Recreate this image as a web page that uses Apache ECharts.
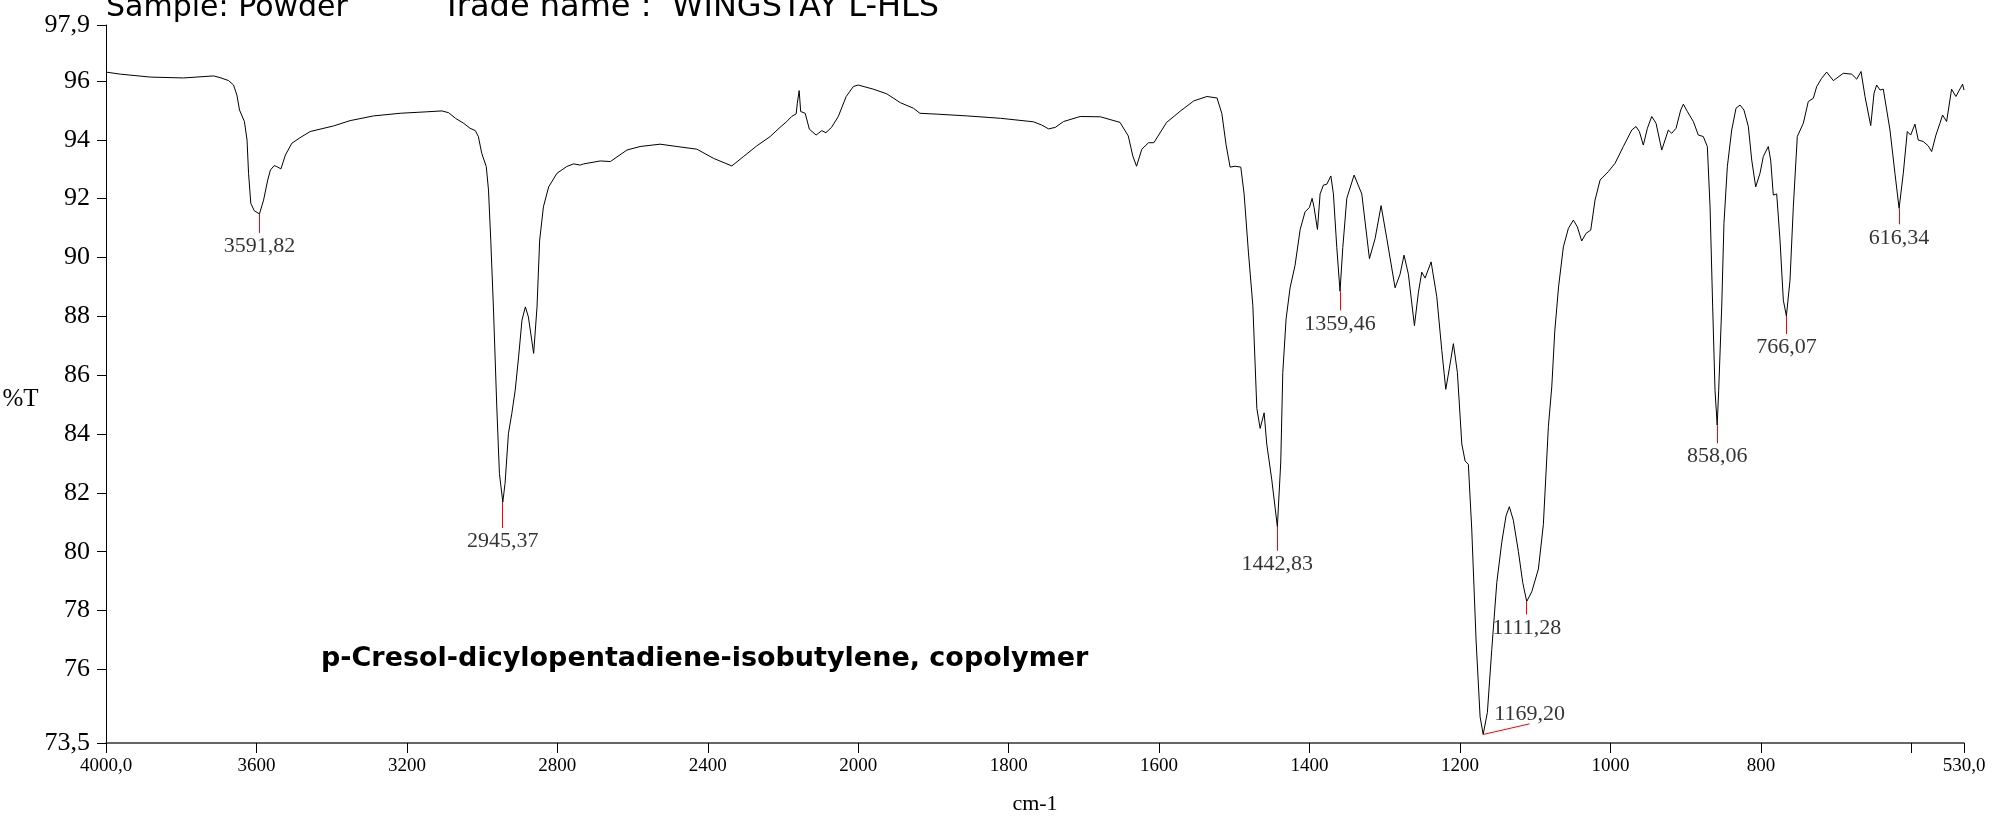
<!DOCTYPE html>
<html>
<head>
<meta charset="utf-8">
<script src="https://cdn.jsdelivr.net/npm/echarts@6.0.0/dist/echarts.min.js"></script>
<style>
html, body { margin: 0; padding: 0; background: #fff; }
#chart { width: 1996px; height: 817px; }
</style>
</head>
<body>
<div id="chart"></div>
<script>
// spectrum, wavenumber (cm-1) and %T
var wavenumbers = [
  4000, 3962, 3882, 3794, 3714, 3696, 3674, 3661, 3652, 3645, 3632, 3625, 3621, 3615, 3606, 3592,
  3581, 3570, 3563, 3553, 3546, 3535, 3523, 3506, 3484, 3457, 3395, 3351, 3289, 3218, 3147, 3107,
  3089, 3071, 3049, 3032, 3018, 3010, 3001, 2989, 2983, 2977, 2970, 2961, 2954, 2945, 2939, 2930,
  2921, 2912, 2903, 2894, 2885, 2877, 2863, 2854, 2847, 2837, 2823, 2801, 2775, 2757, 2739, 2730,
  2686, 2659, 2615, 2580, 2527, 2482, 2429, 2385, 2336, 2305, 2270, 2234, 2208, 2190, 2177, 2165,
  2162, 2157, 2153, 2141, 2130, 2112, 2097, 2086, 2071, 2053, 2032, 2013, 2000,
  1980, 1962, 1944, 1926.5, 1918, 1895, 1855, 1811, 1767, 1756, 1747, 1738, 1727, 1705, 1678,
  1652, 1641, 1635, 1630, 1623, 1614, 1607, 1590, 1572, 1554, 1536.5, 1523, 1516.6, 1511, 1505.6,
  1499, 1491.4, 1487, 1481.3, 1475.4, 1470.1, 1465.7, 1460.4, 1456.9, 1450.2, 1442.8, 1438.3,
  1435.6, 1431.2, 1425.9, 1419.3, 1412.5, 1406, 1400.2, 1396.6, 1394, 1389.5, 1386, 1381.6, 1377,
  1371.7, 1368.3, 1363.8, 1359.5, 1355.8, 1350.5, 1340.8, 1330.6, 1320.4, 1312.9, 1304.9, 1297.3,
  1286.3, 1279.7, 1274.4, 1268.6, 1260.6, 1255.3, 1250.8, 1246.4, 1238.4, 1230.9, 1224.2, 1218.9,
  1214.1, 1208.8, 1203.5, 1197.6, 1193.2, 1188.9, 1184.4, 1178.6, 1173.3, 1169.2, 1163.6, 1157.8,
  1151.1, 1144.5, 1138.8, 1134.4, 1129.1, 1122.4, 1116.6, 1111.3, 1104.6, 1095.8, 1089.2, 1082.5,
  1078, 1074, 1069, 1062.6, 1055.9, 1049.3, 1044, 1038.2, 1032.4, 1026.2, 1020.5, 1013.8, 1002.8,
  993.9, 982.9, 971.7, 966, 961.6, 956.3, 950.9, 945.1, 939.4, 931.8, 923.1, 918.6, 912.8, 906.6,
  903.1, 897.8, 889.8, 883.2, 876.6, 871.2, 867.6, 864.1, 861, 858.1, 856.1, 852.1, 849.1, 844.6,
  838.8, 833.1, 827.8, 822.5, 816.7, 812.2, 806.9, 801.2, 796.8, 790.2, 787, 783.5, 779, 774.6,
  770.2, 766.1, 761.3, 756.9, 751.6, 743.6, 737, 730.3, 725.8, 719.2, 712.5, 703.7, 690.4, 679.3,
  672.6, 666.9, 661.6, 654, 649.6, 646.1, 641.7, 637.3, 628.4, 621.8, 616.3, 610.7, 605.4, 600.9,
  595.2, 590.8, 584.1, 577.5, 573, 567.3, 562, 558.5, 553.1, 546.5, 540.8, 531.9, 530
];
var transmittance = [
  96.30, 96.23, 96.13, 96.10, 96.17, 96.11, 96.01, 95.86, 95.52, 95.01, 94.62, 93.99, 92.86, 91.84, 91.59, 91.48,
  91.95, 92.63, 92.97, 93.12, 93.09, 93.01, 93.48, 93.88, 94.07, 94.28, 94.47, 94.65, 94.81, 94.90, 94.95, 94.98,
  94.92, 94.73, 94.56, 94.39, 94.31, 94.11, 93.54, 93.09, 92.29, 90.59, 88.32, 84.92, 82.66, 81.69, 82.32, 84.02,
  84.70, 85.49, 86.62, 87.87, 88.32, 87.98, 86.74, 88.32, 90.59, 91.72, 92.40, 92.86, 93.09, 93.18, 93.14, 93.18,
  93.28, 93.26, 93.65, 93.77, 93.85, 93.77, 93.68, 93.37, 93.11, 93.43, 93.79, 94.11, 94.42, 94.62, 94.79, 94.88,
  95.24, 95.67, 94.96, 94.90, 94.36, 94.16, 94.31, 94.24, 94.42, 94.79, 95.47, 95.81, 95.86,
  95.72, 95.56, 95.26, 95.07, 94.90, 94.87, 94.81, 94.73, 94.61, 94.50, 94.37, 94.42, 94.62, 94.79, 94.78,
  94.59, 94.13, 93.45, 93.10, 93.68, 93.90, 93.90, 94.59, 94.97, 95.32, 95.47, 95.42, 94.89, 93.83, 93.07,
  93.10, 93.07, 92.16, 90.18, 88.36, 84.87, 84.19, 84.72, 83.66, 82.44, 80.85, 83.05,
  86.09, 87.91, 88.97, 89.73, 90.95, 91.55, 91.70, 92.01, 91.70, 90.95, 92.16, 92.46, 92.49,
  92.77, 92.16, 90.34, 88.85, 90.34, 92.01, 92.80, 92.16, 89.96, 90.64, 91.76, 90.64,
  88.97, 89.43, 90.08, 89.43, 87.68, 88.82, 89.50, 89.30, 89.85, 88.67, 86.84, 85.52,
  86.24, 87.07, 86.09, 83.66, 83.08, 82.97, 80.77, 76.97, 74.39, 73.79, 74.54, 76.67,
  78.95, 80.32, 81.22, 81.53, 81.07, 80.01, 78.95, 78.31, 78.64, 79.41, 80.92, 84.26,
  85.60, 87.50, 89.00, 90.36, 90.99, 91.27, 91.04, 90.56, 90.82, 90.93, 91.95, 92.63, 92.92,
  93.20, 93.77, 94.33, 94.45, 94.28, 93.82, 94.39, 94.79, 94.56, 93.65, 94.33, 94.22, 94.39, 95.01,
  95.21, 94.96, 94.62, 94.16, 94.11, 93.77, 91.72, 88.32, 85.49, 84.30, 85.49, 88.32, 91.16, 93.09,
  94.33, 95.07, 95.18, 95.01, 94.45, 93.31, 92.40, 92.86, 93.43, 93.77, 93.31, 92.12, 92.16, 90.59,
  88.55, 88.01, 89.23, 91.72, 94.11, 94.56, 95.30, 95.41, 95.81, 96.09, 96.30, 96.01, 96.26, 96.23,
  96.06, 96.32, 95.47, 94.48, 95.58, 95.86, 95.69, 95.72, 94.33, 92.86, 91.67, 92.86, 94.28, 94.16,
  94.53, 93.99, 93.94, 93.79, 93.60, 94.16, 94.56, 94.84, 94.62, 95.72, 95.47, 95.89, 95.69
];

// picked peaks
var peakWavenumbers = [3591.82, 2945.37, 1442.83, 1359.46, 1169.20, 1111.28, 858.06, 766.07, 616.34];
var peakTransmittance = [91.48, 81.69, 80.85, 88.85, 73.79, 78.31, 84.30, 88.01, 91.67];

// axis ticks
var xTickValues = [4000, 3600, 3200, 2800, 2400, 2000, 1800, 1600, 1400, 1200, 1000, 800, 600, 530];
var xLabelValues = [4000, 3600, 3200, 2800, 2400, 2000, 1800, 1600, 1400, 1200, 1000, 800, 530];
var yTickValues = [73.5, 76, 78, 80, 82, 84, 86, 88, 90, 92, 94, 96, 97.9];

// the instrument plots above 2000 cm-1 at half scale
function toAxis(wn) { return wn > 2000 ? 2000 + (wn - 2000) / 2 : wn; }
function fromAxis(t) { return t > 2000 ? 2000 + (t - 2000) * 2 : t; }
function comma(v, d) { return v.toFixed(d).replace('.', ','); }

var serif = '"Liberation Serif", "Times New Roman", serif';
var comic = '"Comic Sans MS", "DejaVu Sans", sans-serif';

var spectrum = wavenumbers.map(function (wn, i) {
  return [toAxis(wn), transmittance[i]];
});

// red leader length under each peak, in px (about 29.4 px per %T)
var leaderPx = [19, 26, 24, 19, 0, 13, 18, 18, 16];
var pxPerT = 29.4;

var leaders = [];
var peakLabels = [];
peakWavenumbers.forEach(function (wn, i) {
  var t = toAxis(wn);
  var y = peakTransmittance[i];
  var end;
  var lbl = { position: 'bottom' };
  if (wn === 1169.20) {
    // this one is pulled out to the right, label above
    end = [toAxis(1107.5), y + 0.36];
    lbl = { position: 'top', offset: [0, 4] };
  } else {
    end = [t, y - leaderPx[i] / pxPerT];
  }
  leaders.push([{ coord: [t, y] }, { coord: end }]);
  peakLabels.push({ value: end, name: comma(wn, 2), label: lbl });
});

var myChart = echarts.init(document.getElementById('chart'));
var option = {
  backgroundColor: '#fff',
  animation: false,
  title: [
    {
      text: 'Sample: Powder',
      left: 106, top: -7, padding: 0,
      textStyle: { fontFamily: comic, fontSize: 30, fontWeight: 'normal', color: '#000', lineHeight: 30 }
    },
    {
      text: 'Trade name :  WINGSTAY L-HLS',
      left: 442, top: -8, padding: 0,
      textStyle: { fontFamily: comic, fontSize: 32, fontWeight: 'normal', color: '#000', lineHeight: 32 }
    },
    {
      text: 'p-Cresol-dicylopentadiene-isobutylene, copolymer',
      left: 321, top: 645, padding: 0,
      textStyle: { fontFamily: comic, fontSize: 27, fontWeight: 'bold', color: '#000', lineHeight: 27 }
    }
  ],
  grid: {
    left: 106,
    right: 32,
    top: 25,
    bottom: 74,
    outerBoundsMode: 'none'
  },
  xAxis: {
    type: 'value',
    min: 530,
    max: 3000,
    inverse: true,
    name: 'cm-1',
    nameLocation: 'middle',
    nameGap: 50,
    nameTextStyle: { fontFamily: serif, fontSize: 22, color: '#000' },
    axisLine: { onZero: false, lineStyle: { color: '#333', width: 1.5 } },
    axisTick: {
      show: true,
      length: 10,
      customValues: xTickValues.map(toAxis),
      lineStyle: { color: '#000' }
    },
    axisLabel: {
      customValues: xLabelValues.map(toAxis),
      fontFamily: serif,
      fontSize: 19,
      color: '#000',
      margin: 14,
      formatter: function (t) {
        var v = Math.round(fromAxis(t));
        return (v === 4000 || v === 530) ? comma(v, 1) : String(v);
      }
    },
    splitLine: { show: false }
  },
  yAxis: {
    type: 'value',
    min: 73.5,
    max: 97.9,
    name: '%T',
    nameLocation: 'middle',
    nameRotate: 0,
    nameGap: 63,
    nameTextStyle: { fontFamily: serif, fontSize: 25, color: '#000', verticalAlign: 'top', padding: [3, 0, 0, 0] },
    axisLine: { show: true, lineStyle: { color: '#000', width: 1 } },
    axisTick: {
      show: true,
      length: 9,
      customValues: yTickValues,
      lineStyle: { color: '#000' }
    },
    axisLabel: {
      customValues: yTickValues,
      fontFamily: serif,
      fontSize: 26,
      color: '#000',
      margin: 16,
      formatter: function (v) {
        return (v === 73.5 || v === 97.9) ? comma(v, 1) : String(v);
      }
    },
    splitLine: { show: false }
  },
  series: [
    {
      name: 'spectrum',
      type: 'line',
      data: spectrum,
      showSymbol: false,
      symbol: 'none',
      lineStyle: { color: '#000', width: 1 },
      markLine: {
        silent: true,
        symbol: ['none', 'none'],
        label: { show: false },
        lineStyle: { color: '#ff0000', width: 1, type: 'solid' },
        data: leaders
      }
    },
    {
      name: 'peaks',
      type: 'scatter',
      data: peakLabels,
      symbolSize: 1,
      itemStyle: { color: 'rgba(0,0,0,0)' },
      label: {
        show: true,
        distance: 2,
        formatter: '{b}',
        fontFamily: serif,
        fontSize: 22,
        color: '#000'
      }
    }
  ]
};
option && myChart.setOption(option);
</script>
</body>
</html>
